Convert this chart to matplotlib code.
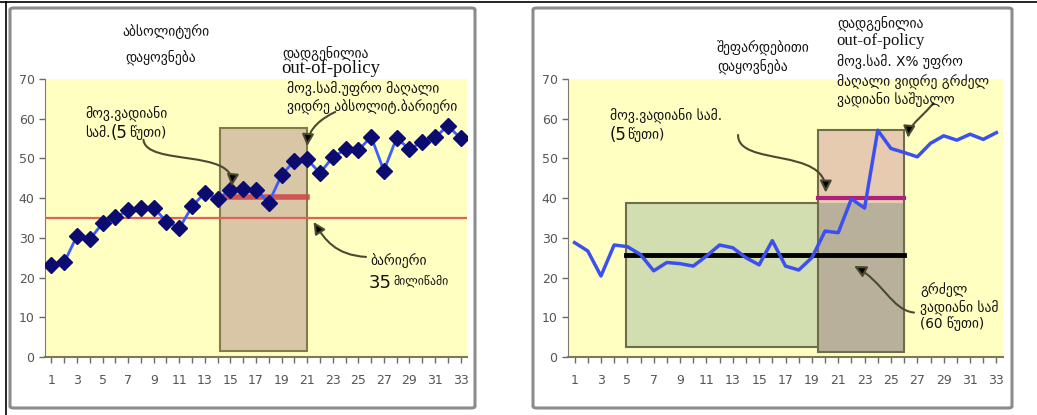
import numpy as np
import matplotlib
matplotlib.use("Agg")
import matplotlib.pyplot as plt
from matplotlib.patches import Rectangle, FancyBboxPatch, FancyArrowPatch
from matplotlib.path import Path
from matplotlib.lines import Line2D

# latency samples, one per minute
minutes = np.arange(1, 34)
abs_latency = [23.2, 23.8, 30.5, 29.6, 33.7, 35.2, 36.9, 37.4, 37.6, 34.1, 32.4,
               37.9, 41.4, 39.7, 42.1, 42.3, 42.1, 38.9, 45.8, 49.4, 49.8, 46.3,
               50.3, 52.3, 52.0, 55.5, 46.9, 55.2, 52.3, 54.2, 55.3, 58.2, 55.1]
rel_latency = [28.8, 26.7, 20.4, 28.2, 27.8, 25.8, 21.7, 23.8, 23.5, 22.9, 25.4,
               28.2, 27.5, 25.0, 23.2, 29.3, 22.9, 21.9, 25.0, 31.7, 31.3, 39.8,
               37.5, 57.1, 52.5, 51.5, 50.4, 53.8, 55.7, 54.6, 56.1, 54.8, 56.5]

# absolute barrier and the 5-minute window
barrier = 35
abs_window = (14.2, 21.0)
abs_window_top = 57.6
abs_short_avg = 40.4

# relative: 60-minute and 5-minute windows
long_window = (4.9, 26.0)
long_window_top = 38.9
long_avg = 25.7
short_window = (19.45, 26.0)
short_window_top = 57.1
short_avg = 40.0

W, H = 1037, 415
fig = plt.figure(figsize=(W / 100, H / 100), dpi=100)
fig.patch.set_facecolor("white")

geo = ["DejaVu Sans"]
serif = ["Liberation Serif", "DejaVu Serif"]


def fx(px):
    return px / W


def fy(py):
    return 1 - py / H


# panel frames
for x0, x1 in [(10, 475), (533, 1012)]:
    fig.patches.append(FancyBboxPatch((fx(x0), fy(408)), fx(x1 - x0), (408 - 8) / H,
                                      boxstyle="round,pad=0,rounding_size=0.004",
                                      transform=fig.transFigure, fc="none",
                                      ec="#8c8c8c", lw=2.2, zorder=0))
fig.lines.append(Line2D([0, 1], [fy(2), fy(2)], transform=fig.transFigure, color="black", lw=1.2))
fig.lines.append(Line2D([fx(6), fx(6)], [0, fy(2)], transform=fig.transFigure, color="black", lw=1.2))

ax1 = fig.add_axes([fx(45), fy(357), fx(467 - 45), (357 - 79) / H])
ax2 = fig.add_axes([fx(568), fy(357), fx(1003 - 568), (357 - 79) / H])

for ax in (ax1, ax2):
    ax.set_facecolor("#ffffc2")
    ax.set_xlim(0.5, 33.5)
    ax.set_ylim(0, 70)
    ax.set_yticks(range(0, 71, 10))
    ax.set_xticks(minutes[::2])
    ax.set_xticks(minutes, minor=True)
    for s in ("top", "right"):
        ax.spines[s].set_visible(False)
    ax.spines["left"].set_color("#7a7a7a")
    ax.spines["bottom"].set_color("#7a7a55")
    ax.spines["bottom"].set_linewidth(1.5)
    ax.tick_params(axis="both", which="both", colors="#6a6a6a", labelsize=9,
                   length=4, width=1, labelcolor="#555555")
    ax.tick_params(axis="x", which="major", pad=8)

# ---- absolute latency panel
ax1.add_patch(Rectangle((abs_window[0], 1.5), abs_window[1] - abs_window[0],
                        abs_window_top - 1.5, fc="#d9c6a6", ec="#7d7d4e", lw=1.5, zorder=2))
ax1.axhline(barrier, color="#e0605a", lw=1.6, zorder=3)
ax1.plot(abs_window, [abs_short_avg] * 2, color="#cc4a4a", lw=4, alpha=0.9, zorder=3)
ax1.plot(minutes, abs_latency, color="#3c5cff", lw=2, marker="D", ms=8,
         mfc="#0c0c70", mec="#0c0c70", zorder=4)

# ---- relative latency panel
ax2.add_patch(Rectangle((long_window[0], 2.5), long_window[1] - long_window[0],
                        long_window_top - 2.5, fc="#d2ddb0", ec="#6e6e4a", lw=1.5, zorder=2))
ax2.add_patch(Rectangle((short_window[0], long_window_top), short_window[1] - short_window[0],
                        short_window_top - long_window_top, fc="#e6cbb0", ec="none", zorder=2))
ax2.add_patch(Rectangle((short_window[0], 1.25), short_window[1] - short_window[0],
                        long_window_top - 1.25, fc="#b8b09a", ec="none", zorder=2))
ax2.add_patch(Rectangle((short_window[0], 1.25), short_window[1] - short_window[0],
                        short_window_top - 1.25, fc="none", ec="#6e6e4a", lw=1.5, zorder=2))
ax2.plot(long_window, [long_avg] * 2, color="black", lw=3.5, zorder=3)
ax2.plot(short_window, [short_avg] * 2, color="#b0207a", lw=3, zorder=3)
ax2.plot(minutes, rel_latency, color="#3c50f0", lw=2.5, zorder=4)


def curved_arrow(ax, pts):
    path = Path(pts, [Path.MOVETO, Path.CURVE4, Path.CURVE4, Path.CURVE4])
    arr = FancyArrowPatch(path=path, arrowstyle="-|>,head_length=0.7,head_width=0.35",
                          mutation_scale=10, fc="black", ec="#4a4a30", lw=1.5,
                          clip_on=False, zorder=6)
    arr.set_transform(ax.transData)
    ax.add_patch(arr)


curved_arrow(ax1, [(8.2, 54.7), (8.4, 48.0), (15.4, 52.5), (15.1, 43.0)])
curved_arrow(ax1, [(23.2, 61.7), (22.2, 60.2), (21.1, 57.7), (21.0, 53.1)])
curved_arrow(ax1, [(25.6, 25.2), (23.2, 25.7), (22.4, 29.5), (21.5, 34.0)])
curved_arrow(ax2, [(13.4, 55.9), (13.4, 47.9), (20.1, 52.9), (20.05, 41.4)])
curved_arrow(ax2, [(28.2, 63.9), (27.4, 60.4), (26.4, 58.7), (26.3, 55.2)])
curved_arrow(ax2, [(26.75, 11.2), (25.1, 11.7), (24.35, 19.2), (22.2, 22.9)])


def label(px, py, s, size=9.8, family=geo, **kw):
    fig.text(fx(px), fy(py), s, fontsize=size, family=family, va="center",
             ha=kw.pop("ha", "left"), color="#111111", **kw)


# left panel texts
label(166, 32, "აბსოლიტური", ha="center")
label(161, 57, "დაყოვნება", ha="center")
label(282, 53, "დადგენილია")
label(281, 68, "out-of-policy", size=13.5, family=serif)
label(287, 89, "მოვ.სამ.უფრო მაღალი")
label(287, 107, "ვიდრე აბსოლიტ.ბარიერი")
label(85, 113, "მოვ.ვადიანი")
label(85, 133, "სამ.")
label(111, 133, "(5", size=12)
label(129, 133, "წუთი)")
label(370, 261, "ბარიერი")
label(369, 283, "35", size=13)
label(393, 281, "მილიწამი", size=8.5)

# right panel texts
label(717, 48, "შეფარდებითი")
label(717, 66, "დაყოვნება")
label(837, 23, "დადგენილია")
label(836, 41, "out-of-policy", size=12, family=serif)
label(837, 62, "მოვ.სამ. X% უფრო")
label(837, 82, "მაღალი ვიდრე გრძელ")
label(837, 99, "ვადიანი საშუალო")
label(610, 115, "მოვ.ვადიანი სამ.")
label(610, 135, "(5", size=12)
label(627, 135, "წუთი)")
label(920, 290, "გრძელ")
label(920, 307, "ვადიანი სამ")
label(920, 324, "(60 წუთი)")

fig.savefig("out.png", dpi=100)
